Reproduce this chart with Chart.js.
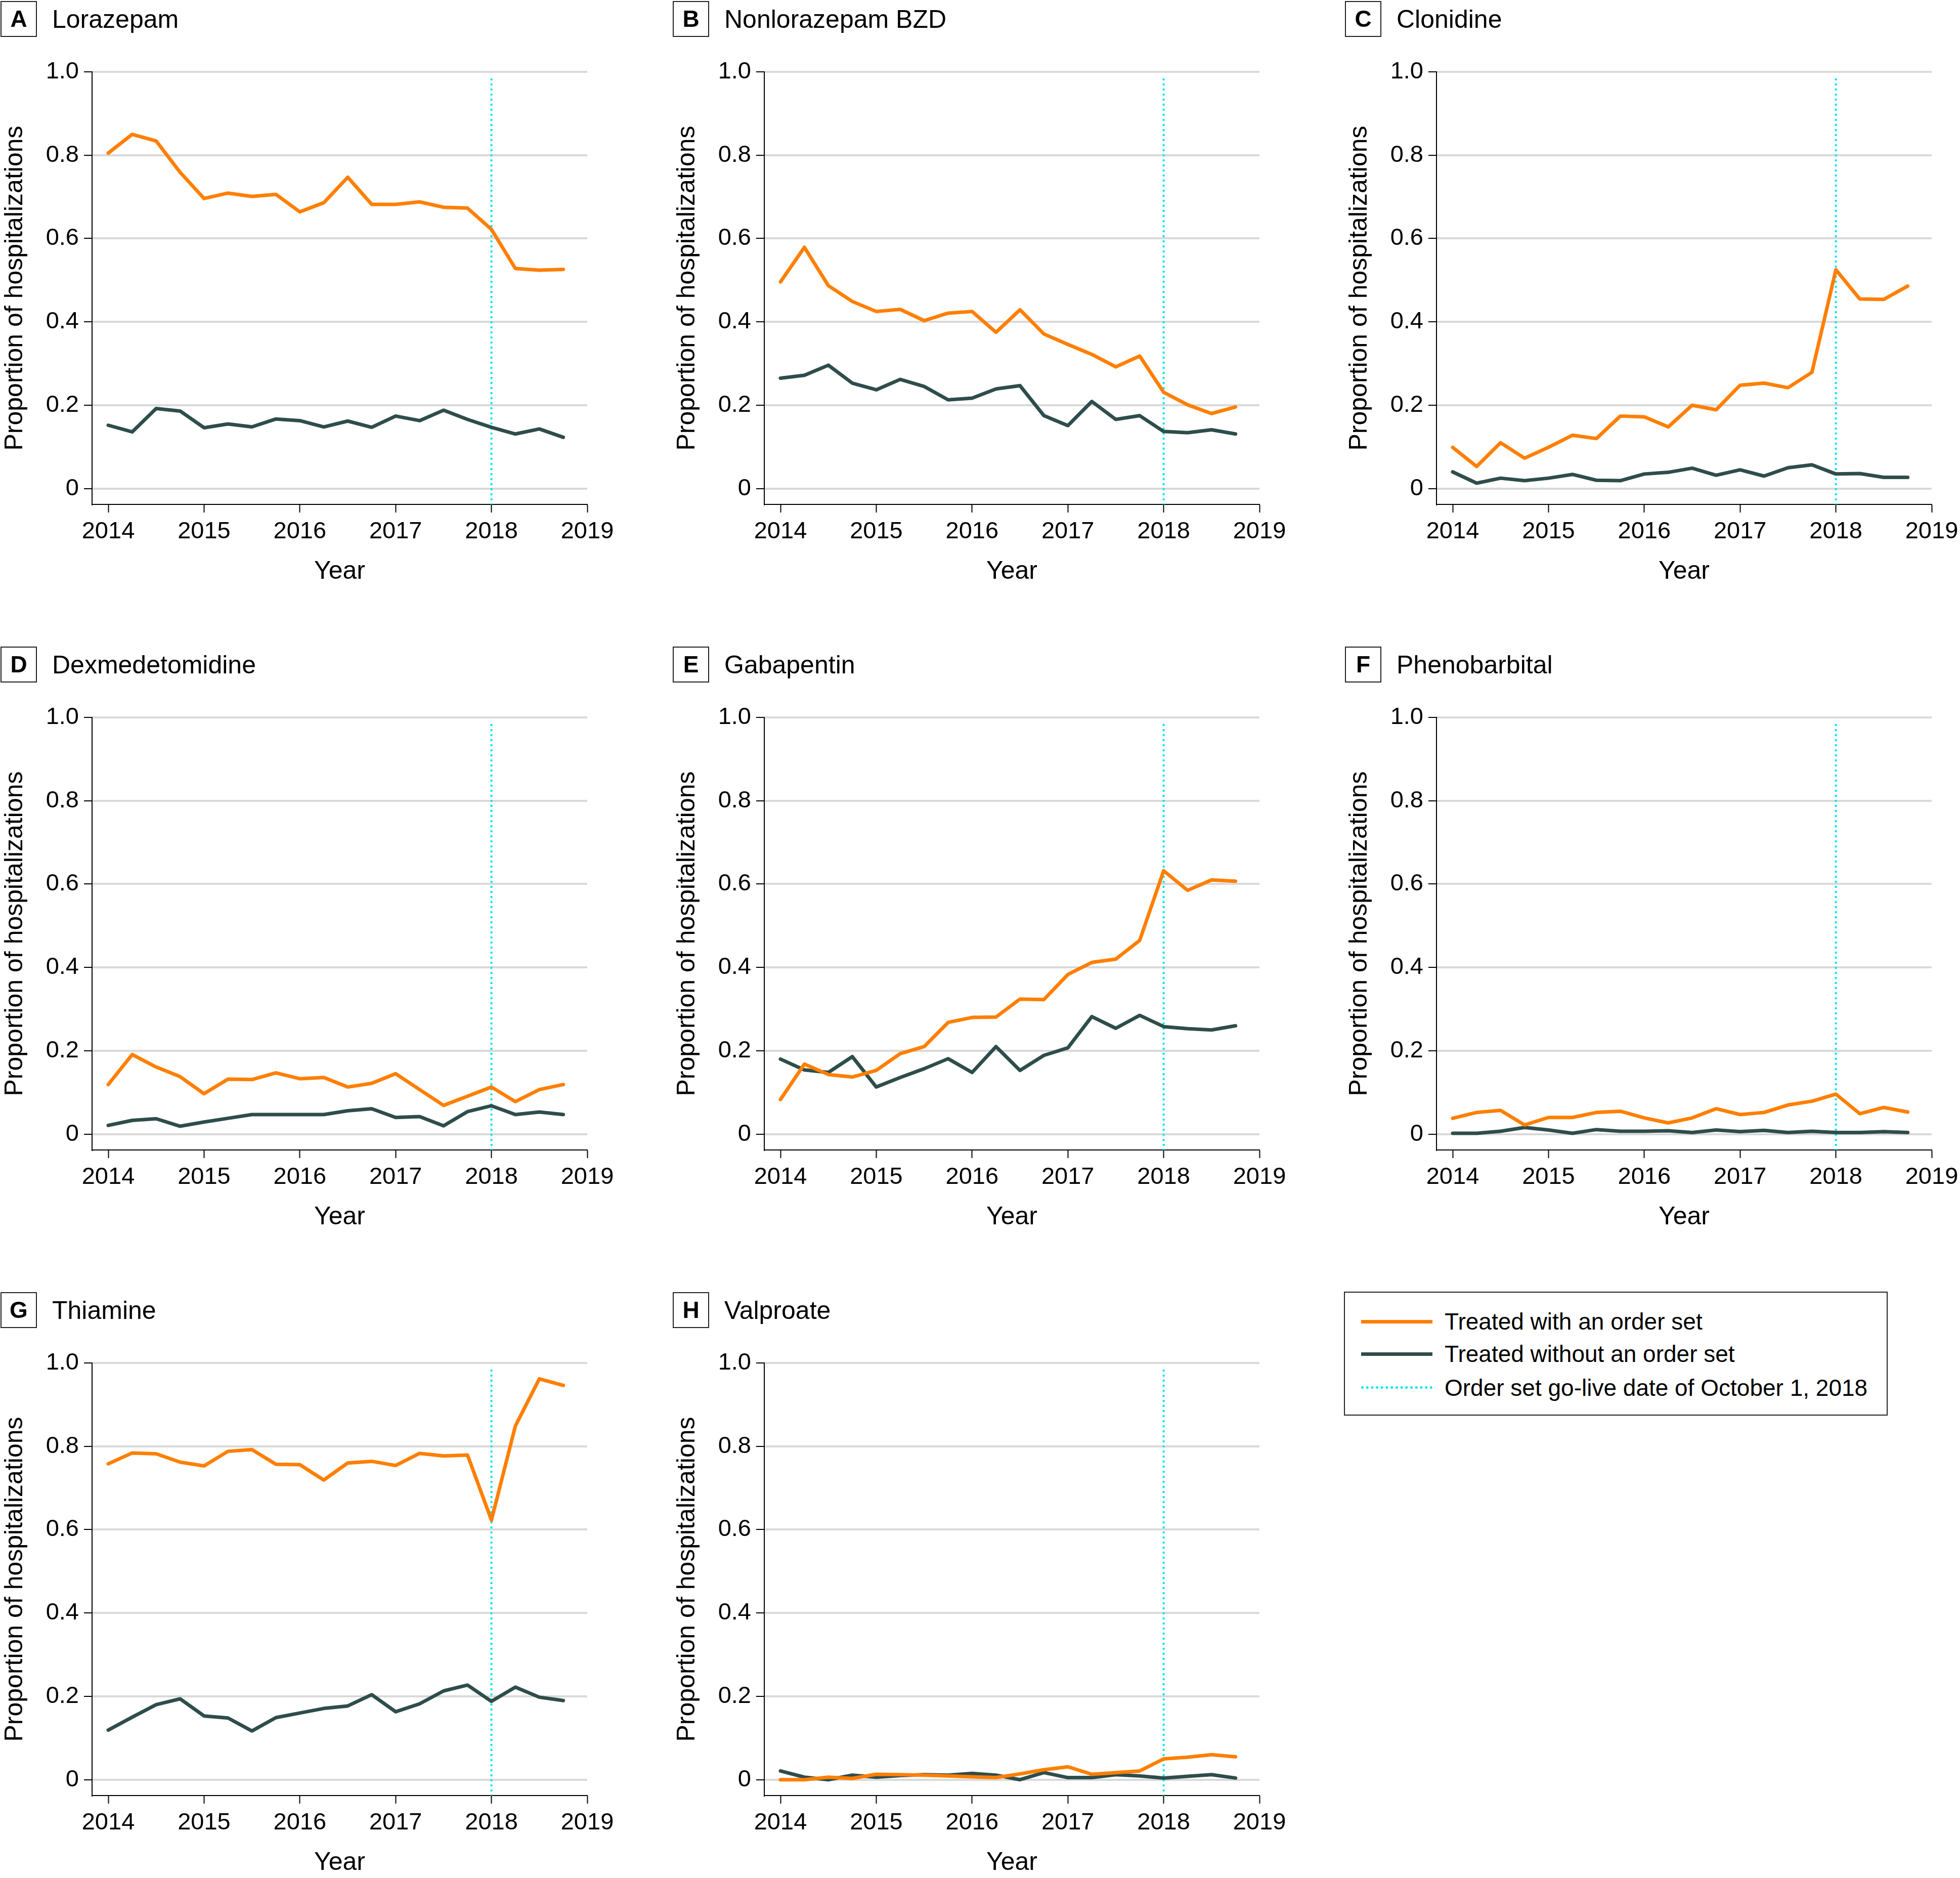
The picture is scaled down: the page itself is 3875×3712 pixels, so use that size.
<!DOCTYPE html>
<html>
<head>
<meta charset="utf-8">
<script src="https://cdn.jsdelivr.net/npm/chart.js@4.4.1/dist/chart.umd.min.js"></script>
<style>
  body { margin: 0; background: #fff; width: 3875px; height: 3712px; position: relative; overflow: hidden;
         font-family: "Liberation Sans", Arial, sans-serif; color: #000; }
  .panel { position: absolute; width: 1240px; height: 1160px; }
  .panel canvas { position: absolute; left: 0; top: 0; }
  .tag { position: absolute; left: 1px; top: 2px; width: 68px; height: 67px; border: 2px solid #222;
         font-weight: bold; font-size: 46px; line-height: 67px; text-align: center; }
  .name { position: absolute; left: 103px; top: 8px; font-size: 50px; line-height: 60px; white-space: nowrap; }
  #legend { position: absolute; left: 2657px; top: 2553px; width: 1071px; height: 241px; border: 2px solid #222; }
  #legend .row { position: absolute; left: 0; height: 60px; width: 100%; }
  #legend .sample { position: absolute; left: 32px; top: 27px; width: 141px; height: 0; }
  #legend .text { position: absolute; left: 197px; top: 0; font-size: 46px; line-height: 60px; white-space: nowrap; }
</style>
</head>
<body>
<script>
// quarters, 2014 Q1 .. 2018 Q4
const quarters = [2014, 2014.25, 2014.5, 2014.75, 2015, 2015.25, 2015.5, 2015.75,
                  2016, 2016.25, 2016.5, 2016.75, 2017, 2017.25, 2017.5, 2017.75,
                  2018, 2018.25, 2018.5, 2018.75];

const lorazepamWith = [0.805, 0.850, 0.834, 0.759, 0.696, 0.709, 0.701, 0.706, 0.664, 0.686,
                       0.747, 0.682, 0.682, 0.688, 0.675, 0.673, 0.622, 0.528, 0.524, 0.526];
const lorazepamWithout = [0.152, 0.136, 0.192, 0.186, 0.146, 0.155, 0.148, 0.167, 0.163, 0.148,
                          0.162, 0.147, 0.174, 0.163, 0.188, 0.166, 0.147, 0.131, 0.143, 0.123];

const bzdWith = [0.496, 0.579, 0.487, 0.449, 0.425, 0.430, 0.403, 0.421, 0.425, 0.375,
                 0.429, 0.371, 0.346, 0.322, 0.292, 0.318, 0.231, 0.201, 0.180, 0.196];
const bzdWithout = [0.265, 0.272, 0.296, 0.253, 0.237, 0.262, 0.245, 0.213, 0.217, 0.239,
                    0.247, 0.175, 0.151, 0.209, 0.166, 0.175, 0.137, 0.134, 0.141, 0.131];

const clonidineWith = [0.099, 0.053, 0.110, 0.073, 0.099, 0.128, 0.120, 0.174, 0.172, 0.148,
                       0.200, 0.189, 0.248, 0.253, 0.242, 0.279, 0.525, 0.455, 0.454, 0.486];
const clonidineWithout = [0.040, 0.013, 0.025, 0.019, 0.025, 0.034, 0.020, 0.019, 0.035, 0.039,
                          0.049, 0.032, 0.045, 0.030, 0.050, 0.057, 0.035, 0.036, 0.027, 0.027];

const dexWith = [0.119, 0.191, 0.161, 0.138, 0.097, 0.132, 0.131, 0.147, 0.133, 0.136,
                 0.113, 0.122, 0.145, 0.107, 0.069, 0.091, 0.113, 0.078, 0.107, 0.119];
const dexWithout = [0.021, 0.033, 0.037, 0.019, 0.029, 0.038, 0.047, 0.047, 0.047, 0.047,
                    0.056, 0.061, 0.040, 0.042, 0.020, 0.054, 0.068, 0.047, 0.053, 0.047];

const gabapentinWith = [0.083, 0.168, 0.143, 0.137, 0.153, 0.193, 0.210, 0.268, 0.280, 0.281,
                        0.324, 0.323, 0.383, 0.412, 0.420, 0.465, 0.632, 0.585, 0.610, 0.607];
const gabapentinWithout = [0.180, 0.154, 0.148, 0.186, 0.113, 0.136, 0.157, 0.181, 0.148, 0.210,
                           0.153, 0.189, 0.207, 0.282, 0.254, 0.285, 0.258, 0.253, 0.250, 0.260];

const phenoWith = [0.038, 0.052, 0.057, 0.022, 0.040, 0.040, 0.052, 0.055, 0.039, 0.027,
                   0.039, 0.061, 0.047, 0.052, 0.070, 0.079, 0.096, 0.049, 0.064, 0.053];
const phenoWithout = [0.002, 0.002, 0.007, 0.016, 0.010, 0.002, 0.011, 0.007, 0.007, 0.008,
                      0.004, 0.010, 0.006, 0.009, 0.004, 0.007, 0.004, 0.004, 0.006, 0.004];

const thiamineWith = [0.758, 0.784, 0.782, 0.762, 0.753, 0.788, 0.792, 0.757, 0.756, 0.719,
                      0.760, 0.764, 0.754, 0.783, 0.777, 0.779, 0.623, 0.849, 0.962, 0.946];
const thiamineWithout = [0.119, 0.150, 0.180, 0.194, 0.153, 0.148, 0.117, 0.149, 0.160, 0.171,
                         0.177, 0.204, 0.163, 0.182, 0.213, 0.227, 0.188, 0.222, 0.198, 0.190];

const valproateWith = [0.000, 0.000, 0.006, 0.003, 0.013, 0.012, 0.011, 0.009, 0.007, 0.005,
                       0.014, 0.024, 0.031, 0.013, 0.017, 0.021, 0.050, 0.054, 0.060, 0.055];
const valproateWithout = [0.021, 0.006, 0.000, 0.011, 0.006, 0.010, 0.012, 0.011, 0.015, 0.011,
                          0.000, 0.017, 0.005, 0.005, 0.012, 0.009, 0.004, 0.008, 0.012, 0.004];

const panelTags = ['A', 'B', 'C', 'D', 'E', 'F', 'G', 'H'];
const panelNames = ['Lorazepam', 'Nonlorazepam BZD', 'Clonidine', 'Dexmedetomidine',
                    'Gabapentin', 'Phenobarbital', 'Thiamine', 'Valproate'];
const withSeries = [lorazepamWith, bzdWith, clonidineWith, dexWith, gabapentinWith, phenoWith, thiamineWith, valproateWith];
const withoutSeries = [lorazepamWithout, bzdWithout, clonidineWithout, dexWithout, gabapentinWithout, phenoWithout, thiamineWithout, valproateWithout];

const legendLabels = ['Treated with an order set', 'Treated without an order set', 'Order set go-live date of October 1, 2018'];
const goLiveYear = 2018;
const goLiveSpan = [-0.038, 0.99];

const colWith = '#FF7F00';
const colWithout = '#2E4D4B';
const colGoLive = '#00E5EE';

Chart.defaults.font.family = '"Liberation Sans", Arial, sans-serif';
Chart.defaults.color = '#000';

function drawPanel(i, left, top) {
    const div = document.createElement('div');
    div.className = 'panel';
    div.style.left = left + 'px';
    div.style.top = top + 'px';
    const canvas = document.createElement('canvas');
    canvas.width = 1240;
    canvas.height = 1160;
    div.appendChild(canvas);
    div.insertAdjacentHTML('beforeend', '<div class="tag">' + panelTags[i] + '</div><div class="name">' + panelNames[i] + '</div>');
    document.body.appendChild(div);

    new Chart(canvas, {
        type: 'line',
        data: {
            datasets: [
                {
                    label: legendLabels[0],
                    data: quarters.map((q, k) => ({ x: q, y: withSeries[i][k] })),
                    borderColor: colWith, borderWidth: 7, pointRadius: 0, tension: 0,
                    borderJoinStyle: 'round', borderCapStyle: 'round'
                },
                {
                    label: legendLabels[1],
                    data: quarters.map((q, k) => ({ x: q, y: withoutSeries[i][k] })),
                    borderColor: colWithout, borderWidth: 7, pointRadius: 0, tension: 0,
                    borderJoinStyle: 'round', borderCapStyle: 'round'
                },
                {
                    // vertical go-live marker
                    label: legendLabels[2],
                    data: goLiveSpan.map(v => ({ x: goLiveYear, y: v })),
                    borderColor: colGoLive, borderWidth: 4.5, borderDash: [0, 10], borderCapStyle: 'round', pointRadius: 0
                }
            ]
        },
        options: {
            responsive: false,
            animation: false,
            devicePixelRatio: 1,
            layout: { padding: { left: 0, top: 142, right: 79, bottom: 0 } },
            plugins: { legend: { display: false }, tooltip: { enabled: false } },
            scales: {
                x: {
                    type: 'linear', min: 2013.831, max: 2019,
                    ticks: { stepSize: 1, includeBounds: false, callback: v => String(v), font: { size: 47 }, padding: 10, maxRotation: 0, autoSkip: false },
                    grid: { drawOnChartArea: false, tickLength: 16, tickColor: '#000', tickWidth: 2 },
                    border: { color: '#000', width: 2 },
                    title: { display: true, text: 'Year', font: { size: 50 }, padding: 0 },
                    afterFit: s => { s.height = 163; }
                },
                y: {
                    min: -0.038, max: 1.0,
                    ticks: { stepSize: 0.2, includeBounds: false, callback: v => v === 0 ? '0' : v.toFixed(1), font: { size: 47 }, padding: 10 },
                    grid: { color: '#d9d9d9', lineWidth: 4, tickLength: 16, tickColor: '#000', tickWidth: 2 },
                    border: { color: '#000', width: 2 },
                    title: { display: true, text: 'Proportion of hospitalizations', font: { size: 50 }, padding: 0 },
                    afterFit: s => { s.width = 182; }
                }
            }
        }
    });
}

panelTags.forEach((t, i) => {
    drawPanel(i, (i % 3) * 1329, Math.floor(i / 3) * 1276);
});

// legend box
const legend = document.createElement('div');
legend.id = 'legend';
const sampleStyles = ['7px solid ' + colWith, '7px solid ' + colWithout, '5px dotted ' + colGoLive];
const rowTops = [27, 91, 158];
legendLabels.forEach((lab, k) => {
    legend.insertAdjacentHTML('beforeend',
        '<div class="row" style="top:' + rowTops[k] + 'px"><span class="sample" style="border-top:' + sampleStyles[k] +
        '"></span><span class="text">' + lab + '</span></div>');
});
document.body.appendChild(legend);
</script>
</body>
</html>
